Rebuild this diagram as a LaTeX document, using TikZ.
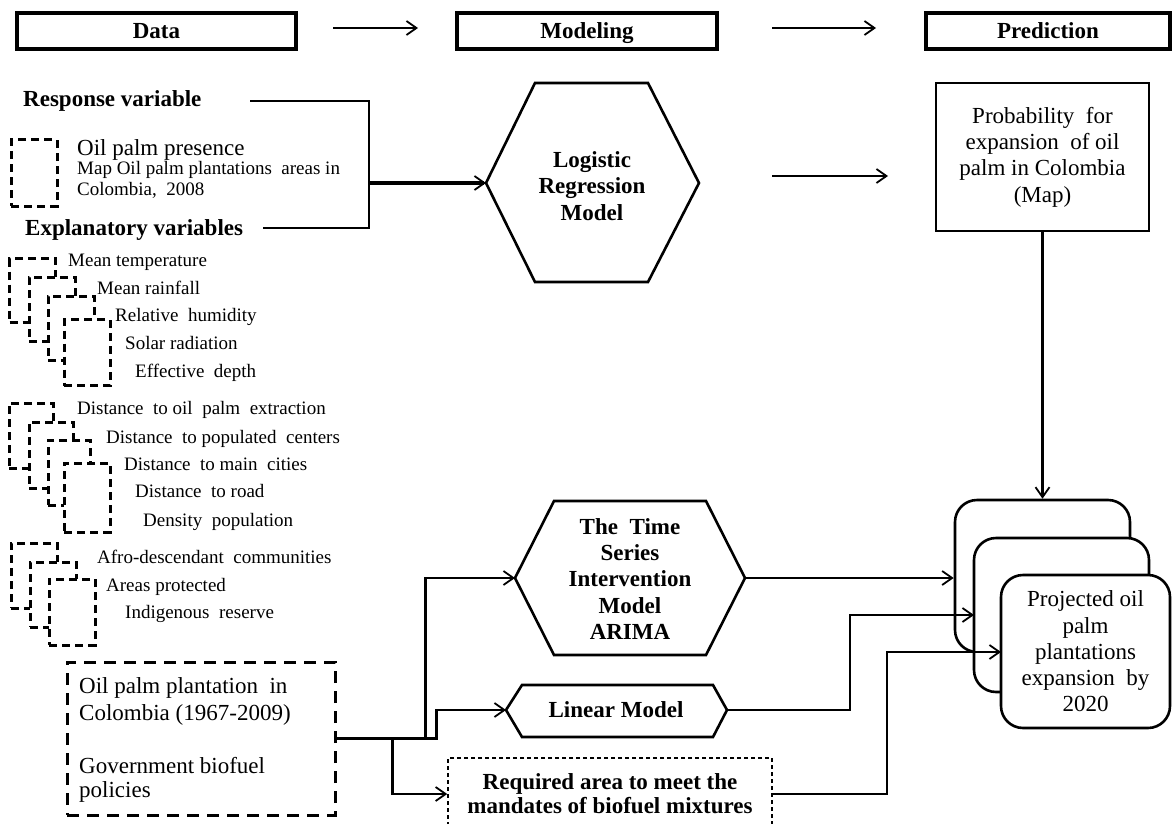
\documentclass[tikz,border=0pt]{standalone}
\usepackage{fontspec}
\setmainfont{Liberation Serif}
\usetikzlibrary{arrows.meta}
\begin{document}
\begin{tikzpicture}[x=1pt,y=-1pt,
  big/.style={font={\fontsize{23}{26}\selectfont}, inner sep=0pt},
  bigb/.style={font={\fontsize{23}{26}\selectfont\bfseries}, inner sep=0pt},
  sml/.style={font={\fontsize{19}{22}\selectfont}, inner sep=0pt},
  conn/.style={line width=2.1pt},
  arr/.style={-{Straight Barb[length=10pt,width=14pt,line width=1.8pt]}},
  hdr/.style={draw, line width=3.2pt, minimum height=36pt, inner sep=0pt, bigb,
    text height=15pt, text depth=0pt},
  stackbox/.style={draw, fill=white, line width=3pt, dash pattern=on 8pt off 5pt,
    inner sep=0pt, minimum width=46pt, minimum height=64pt},
  hexline/.style={draw, fill=white, line width=2.6pt, line join=miter},
  rbox/.style={draw, fill=white, line width=2.6pt, rounded corners=22pt, inner sep=0pt}
]
\useasboundingbox (0,0) rectangle (1172,824);
\clip (0,0) rectangle (1172,824);

% ---- stage headers ----
\node[hdr, minimum width=279pt] (hdata) at (156.5,31) {Data};
\node[hdr, minimum width=260pt] (hmod) at (587,31) {Modeling};
\node[hdr, minimum width=244pt] (hpred) at (1048,31) {Prediction};
\coordinate (h1s) at (333,28); \coordinate (h1e) at (418,28);
\coordinate (h2s) at (772,28); \coordinate (h2e) at (876,28);
\draw[conn,arr] (h1s) -- (h1e);
\draw[conn,arr] (h2s) -- (h2e);

% ---- response variable ----
\node[bigb, anchor=base west] (resp) at (23,107) {Response variable};
\node[stackbox, minimum height=66pt] (pres) at (34,173) {};
\node[big, anchor=base west] (prest) at (77,155) {Oil palm presence};
\node[sml, anchor=base west] (presa) at (77,174) {Map Oil palm plantations\ \ areas in};
\node[sml, anchor=base west] (presb) at (77,195) {Colombia,\ \ 2008};

% ---- explanatory variables ----
\node[bigb, anchor=base west] (expl) at (25,235) {Explanatory variables};

% climate and soil layers
\node[stackbox] (g1a) at (32.5,290.5) {};
\node[stackbox] (g1b) at (52,309) {};
\node[stackbox] (g1c) at (71,328) {};
\node[stackbox, minimum height=66pt] (g1d) at (87,352.5) {};
\node[sml, anchor=base west] (l1a) at (68,266) {Mean temperature};
\node[sml, anchor=base west] (l1b) at (97,294) {Mean rainfall};
\node[sml, anchor=base west] (l1c) at (115,321) {Relative\ \ humidity};
\node[sml, anchor=base west] (l1d) at (125,349) {Solar radiation};
\node[sml, anchor=base west] (l1e) at (135,377) {Effective\ \ depth};

% distance layers
\node[stackbox, minimum width=44pt, minimum height=65pt] (g2a) at (31,435.5) {};
\node[stackbox, minimum width=44pt, minimum height=66pt] (g2b) at (51,455) {};
\node[stackbox, minimum width=42pt, minimum height=65pt] (g2c) at (69,472.5) {};
\node[stackbox, minimum height=69pt] (g2d) at (87,497.5) {};
\node[sml, anchor=base west] (l2a) at (77,414) {Distance\ \ to oil\ \ palm\ \ extraction};
\node[sml, anchor=base west] (l2b) at (106,443) {Distance\ \ to populated\ \ centers};
\node[sml, anchor=base west] (l2c) at (124,470) {Distance\ \ to main\ \ cities};
\node[sml, anchor=base west] (l2d) at (135,497) {Distance\ \ to road};
\node[sml, anchor=base west] (l2e) at (143,526) {Density\ \ population};

% territorial layers
\node[stackbox, minimum height=65pt] (g3a) at (34,575.5) {};
\node[stackbox, minimum height=65pt] (g3b) at (53,594.5) {};
\node[stackbox, minimum height=66pt] (g3c) at (72,612) {};
\node[sml, anchor=base west] (l3a) at (97,563) {Afro-descendant\ \ communities};
\node[sml, anchor=base west] (l3b) at (106,591) {Areas protected};
\node[sml, anchor=base west] (l3c) at (125,618) {Indigenous\ \ reserve};

% ---- historical series box ----
\node[draw, line width=3pt, dash pattern=on 12pt off 8pt, minimum width=268pt,
      minimum height=153pt, inner sep=0pt] (oilbox) at (201,738.5) {};
\node[big, anchor=base west] (ob1) at (79,693) {Oil palm plantation\ \ in};
\node[big, anchor=base west] (ob2) at (79,720) {Colombia (1967-2009)};
\node[big, anchor=base west] (ob3) at (79,773) {Government biofuel};
\node[big, anchor=base west] (ob4) at (79,797) {policies};

% ---- logistic regression ----
\draw[hexline] (486,183) coordinate (lrW) -- (535,83) -- (648,83) -- (699,183) coordinate (lrE)
  -- (648,282) -- (535,282) -- cycle;
\node[bigb, align=center, font={\fontsize{23}{26.5}\selectfont\bfseries}] (lr) at (592,186)
  {Logistic\\Regression\\Model};

\coordinate (respEnd) at (250,101);
\coordinate (explEnd) at (263,228);
\coordinate (join) at (369,183);
\draw[conn] (respEnd) -| (join);
\draw[conn] (explEnd) -| (join);
\draw[line width=4.2pt, -{Straight Barb[length=10pt,width=14pt,line width=1.8pt]}] (join) -- (lrW);

% ---- probability map ----
\node[draw, line width=2.4pt, minimum width=213pt, minimum height=148pt, inner sep=0pt,
      align=center, font={\fontsize{23}{26.3}\selectfont}] (prob) at (1042.5,157)
  {Probability\ \ for\\expansion\ \ of oil\\palm in Colombia\\(Map)};
\coordinate (lpS) at (772,176); \coordinate (lpE) at (888,176);
\draw[conn,arr] (lpS) -- (lpE);

% ---- ARIMA ----
\draw[hexline] (515,578) coordinate (arW) -- (554,501) -- (706,501) -- (745,578) coordinate (arE)
  -- (706,655) -- (554,655) -- cycle;
\node[bigb, align=center, font={\fontsize{23}{26.2}\selectfont\bfseries}] (ar) at (630,579)
  {The\ \ Time\\Series\\Intervention\\Model\\ARIMA};

% ---- linear model ----
\draw[hexline] (506,710) coordinate (lmW) -- (522,685) -- (713,685) -- (727,710) coordinate (lmE)
  -- (713,737) -- (522,737) -- cycle;
\node[bigb] (lm) at (616,710) {Linear Model};

% ---- biofuel mandate ----
\node[draw, fill=white, line width=1.6pt, dash pattern=on 4pt off 3pt, minimum width=324pt,
      minimum height=72pt, inner sep=0pt, align=center,
      font={\fontsize{23}{24}\selectfont\bfseries}] (reqbox) at (610,794)
  {Required area to meet the\\mandates of biofuel mixtures};

\draw[conn,arr] (oilbox.east) -- ++(89,0) |- (arW);
\draw[conn,arr] (oilbox.east) -- ++(100,0) |- (lmW);
\draw[conn,arr] ([xshift=56pt]oilbox.east) |- (reqbox.west);

% ---- projections ----
\node[rbox, minimum width=175pt, minimum height=152pt] (b1) at (1042.5,576) {};
\node[rbox, minimum width=175pt, minimum height=154pt] (b2) at (1061.5,615) {};
\node[rbox, minimum width=169pt, minimum height=153pt, align=center,
      font={\fontsize{23}{26.2}\selectfont}] (b3) at (1085.5,651.5)
  {Projected oil\\palm\\plantations\\expansion\ \ by\\2020};

\draw[conn,arr] (prob.south) -- (b1.north);
\coordinate (b2in) at (974,615);
\coordinate (b3in) at (1001,652);
\draw[conn,arr] (arE) -- (b1.west |- arE);
\draw[conn,arr] (lmE) -- ++(123,0) |- (b2in);
\draw[conn,arr] (reqbox.east) -- ++(114,0) |- (b3in);
\end{tikzpicture}
\end{document}
